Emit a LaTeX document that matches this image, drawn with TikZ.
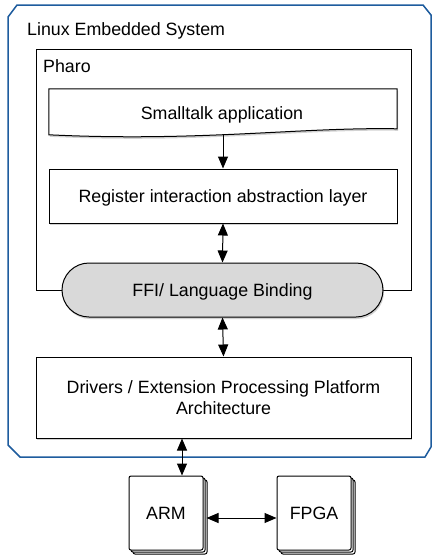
\documentclass[tikz,border=0pt]{standalone}
\usepackage{fontspec}
\setmainfont{Liberation Sans}
\usetikzlibrary{arrows.meta,shadows,calc}
\definecolor{outerblue}{RGB}{30,92,158}
\definecolor{ffigray}{RGB}{217,217,217}
\begin{document}
\begin{tikzpicture}[x=1pt,y=-1pt,
  font=\fontsize{17.8}{21}\selectfont,
  lw/.style={line width=1pt},
  capc/.style={text height=12.7pt,text depth=0pt},
  shad/.style={drop shadow={opacity=0.35,shadow xshift=1pt,shadow yshift=-2pt}},
  box/.style={lw,draw,fill=white,shad,inner sep=0pt},
  stackbox/.style={lw,draw,fill=white,rounded corners=2pt,inner sep=0pt,capc,
     minimum width=74pt,minimum height=74pt,
     double copy shadow={shadow xshift=2pt,shadow yshift=-2pt,opacity=1}},
  arr/.style={lw,-{Triangle[length=12pt,width=10pt]}},
  darr/.style={lw,{Triangle[length=12pt,width=10pt]}-{Triangle[length=12pt,width=10pt]}}]
\useasboundingbox (0,0) rectangle (433,555);
\fill[white] (0,0) rectangle (433,555);

% outer system
\draw[outerblue,line width=1.5pt] (8,17) -- (17,5) -- (423,5) -- (431,15) -- (431,447) -- (425,457) -- (20,457) -- (8,445) -- cycle;
\node[anchor=base west,inner sep=0pt] (sys) at (27,35) {Linux Embedded System};

% Pharo
\node[lw,draw,fill=white,minimum width=375pt,minimum height=241pt,inner sep=0pt] (pharo) at (223.5,169.5) {};
\node[anchor=base west,inner sep=0pt] (pharolbl) at (43,72) {Pharo};

% Smalltalk application (tape shape)
\node[minimum width=348pt,minimum height=46pt,inner sep=0pt] (st) at (223,112) {};
\draw[lw,fill=white,shad] (st.north west) -- (st.north east) -- ($(st.north east)+(0,40)$)
   .. controls (300,127) and (200,142) .. ($(st.north west)+(0,46)$) -- cycle;
\node[inner sep=0pt,capc] (stlbl) at (222,113.5) {Smalltalk application};

% Register layer
\node[box,capc,minimum width=348pt,minimum height=54pt] (reg) at (223,196) {Register interaction abstraction layer};

% FFI
\node[lw,draw,fill=ffigray,shad,capc,rounded corners=27pt,minimum width=321pt,minimum height=54pt,inner sep=0pt] (ffi) at (222.5,290) {FFI/ Language Binding};

% Drivers
\node[box,minimum width=375pt,minimum height=81pt,align=center] (drv) at (223.5,397.5) {Drivers / Extension Processing Platform\\Architecture};

% ARM / FPGA
\node[stackbox] (arm) at (166,513) {ARM};
\node[stackbox] (fpga) at (314,513) {FPGA};

% connectors
\draw[arr] (st.south) -- (reg.north);
\draw[darr] (reg.south) -- (ffi.north);
\draw[darr] (ffi.south) -- (drv.north);
\coordinate (armtop) at ($(arm.north)+(16,0)$);
\draw[darr] (armtop |- drv.south) -- (armtop);
\coordinate (armright) at ($(arm.east)+(3,5)$);
\draw[darr] (armright) -- (armright -| fpga.west);
\end{tikzpicture}
\end{document}
